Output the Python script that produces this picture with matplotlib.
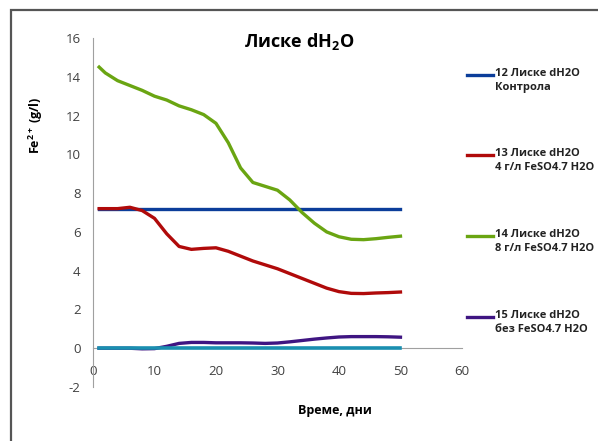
import matplotlib.pyplot as plt
from matplotlib.lines import Line2D
from matplotlib.patches import Rectangle

plt.rcParams['font.family'] = ['Open Sans', 'DejaVu Sans']
plt.rcParams['mathtext.fontset'] = 'custom'
plt.rcParams['mathtext.bf'] = 'Open Sans:bold'
plt.rcParams['mathtext.rm'] = 'Open Sans'
plt.rcParams['axes.unicode_minus'] = False

# days of measurement
days = [1, 2, 4, 6, 8, 10, 12, 14, 16, 18, 20, 22, 24, 26, 28, 30, 32, 34, 36,
        38, 40, 42, 44, 46, 48, 50]

control = [7.2] * len(days)
fe4 = [7.2, 7.2, 7.2, 7.27, 7.1, 6.7, 5.9, 5.25, 5.1, 5.15, 5.18, 5.0, 4.75,
       4.5, 4.3, 4.1, 3.85, 3.6, 3.35, 3.1, 2.92, 2.83, 2.82, 2.85, 2.87, 2.9]
fe8 = [14.5, 14.2, 13.8, 13.55, 13.3, 13.0, 12.8, 12.5, 12.3, 12.05, 11.6, 10.6,
       9.3, 8.55, 8.35, 8.15, 7.65, 7.0, 6.45, 6.0, 5.75, 5.62, 5.6, 5.65, 5.72,
       5.78]
no_fe = [0, 0, 0, 0, -0.03, -0.02, 0.1, 0.25, 0.3, 0.3, 0.28, 0.28, 0.28, 0.27,
         0.25, 0.27, 0.33, 0.4, 0.47, 0.53, 0.58, 0.6, 0.6, 0.6, 0.59, 0.57]
zero_line = [0] * len(days)

labels = ['12 Лиске dH2O\nКонтрола',
          '13 Лиске dH2O\n4 г/л FeSO4.7 H2O',
          '14 Лиске dH2O\n8 г/л FeSO4.7 H2O',
          '15 Лиске dH2O\nбез FeSO4.7 H2O']
colors = ['#0b3d9a', '#b00a0a', '#6aa512', '#3f1582']
series = [control, fe4, fe8, no_fe]

fig = plt.figure(figsize=(5.98, 4.41), dpi=100)
ax = fig.add_axes([0.1555, 0.1224, 0.617, 0.7914])

# chart border (right and bottom run off the picture)
fig.patches.append(Rectangle((11 / 598, -0.05), 1.1, 1 - 10 / 441 + 0.05,
                             transform=fig.transFigure, fill=False,
                             edgecolor='#555555', lw=1.6))

for s, c in zip(series, colors):
    ax.plot(days, s, color=c, lw=2.4, solid_joinstyle='round', zorder=3)
ax.plot(days, zero_line, color='#1a8fb0', lw=2.6, zorder=4)

ax.set_xlim(0, 60)
ax.set_ylim(-2, 16)
ax.set_xticks(range(0, 61, 10))
ax.set_yticks(range(-2, 17, 2))
ax.spines['top'].set_visible(False)
ax.spines['right'].set_visible(False)
ax.spines['bottom'].set_position(('data', 0))
ax.spines['bottom'].set_color('#a0a0a0')
ax.spines['left'].set_color('#a0a0a0')
ax.tick_params(axis='x', length=0, pad=12, labelsize=9.5, labelcolor='#404040')
ax.tick_params(axis='y', length=0, pad=9, labelsize=9.5, labelcolor='#404040')

fig.text(0.5, 0.905, r'Лиске dH$_\mathbf{2}$O', ha='center', va='center',
         fontsize=13, fontweight='bold')
fig.text(0.06, 0.715, r'Fe$^{\mathbf{2+}}$ (g/l)', ha='center', va='center',
         rotation=90, fontsize=9, fontweight='bold')
fig.text(0.56, 0.07, 'Време, дни', ha='center', va='center',
         fontsize=9, fontweight='bold')

# legend, handle aligned with the first line of each label
leg_y = [75, 155, 236, 317]
for yy, lab, c in zip(leg_y, labels, colors):
    yf = 1 - yy / 441
    fig.add_artist(Line2D([467 / 598, 493 / 598], [yf, yf], color=c, lw=2.4,
                          transform=fig.transFigure))
    fig.text(495 / 598, yf + 0.017, lab, ha='left', va='top', fontsize=8,
             fontweight='bold', color='#222222', linespacing=1.45)

fig.savefig('out.png', dpi=100)
